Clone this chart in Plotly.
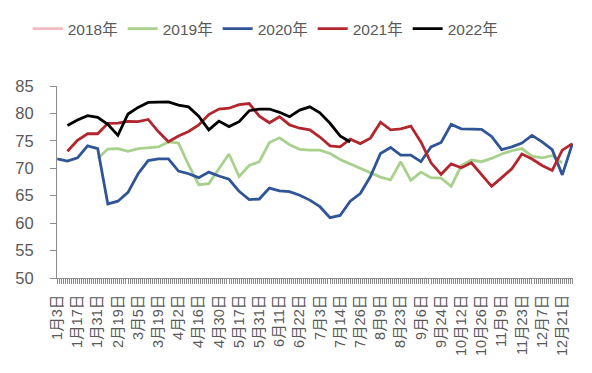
import plotly.graph_objects as go

tick_labels = ["1月3日", "1月17日", "1月31日", "2月19日", "3月5日", "3月19日", "4月2日",
               "4月16日", "4月30日", "5月17日", "5月31日", "6月11日", "6月22日", "7月3日",
               "7月14日", "7月26日", "8月9日", "8月23日", "9月6日", "9月24日", "10月12日",
               "10月26日", "11月9日", "11月23日", "12月7日", "12月21日"]

n_weeks = 52
weeks = list(range(n_weeks))

v2018 = [None] * n_weeks

v2019 = [None] * 4 + [71.8, 73.5, 73.6, 73.1, 73.6, 73.7, 73.9, 74.8, 74.6, 70.6,
                      67.0, 67.2, 70.0, 72.6, 68.5, 70.5, 71.2, 74.7, 75.55, 74.3,
                      73.45, 73.3, 73.3, 72.7, 71.6, 70.8, 70.0, 69.2, 68.4, 67.9,
                      71.2, 67.8, 69.3, 68.3, 68.2, 66.7, 70.5, 71.5, 71.2, 71.8,
                      72.6, 73.2, 73.6, 72.2, 71.9, 72.3, 71.0] + [None]

v2020 = [71.7, 71.3, 71.9, 74.1, 73.6, 63.5, 64.0, 65.6, 69.0, 71.4,
         71.7, 71.7, 69.5, 69.0, 68.3, 69.3, 68.6, 68.0, 65.8, 64.3,
         64.4, 66.4, 65.9, 65.75, 65.1, 64.2, 63.0, 61.0, 61.4, 64.0,
         65.4, 68.5, 72.7, 73.8, 72.4, 72.4, 71.2, 73.9, 74.7, 78.0,
         77.2, 77.1, 77.1, 75.8, 73.4, 73.9, 74.6, 76.0, 74.8, 73.4,
         68.8, 74.5]

v2021 = [None] + [73.1, 75.1, 76.3, 76.3, 78.2, 78.25, 78.55, 78.5, 78.9, 76.7,
                  74.85, 75.9, 76.7, 77.9, 79.8, 80.8, 80.95, 81.6, 81.8, 79.5,
                  78.3, 79.4, 77.9, 77.3, 77.0, 75.7, 74.1, 73.9, 75.3, 74.5,
                  75.5, 78.4, 77.0, 77.2, 77.7, 74.8, 71.0, 68.9, 70.8, 70.1,
                  71.0, 68.9, 66.7, 68.3, 69.9, 72.6, 71.7, 70.5, 69.6, 73.3,
                  74.5]

v2022 = [None] + [77.8, 78.8, 79.6, 79.3, 78.0, 76.0, 79.9, 81.1, 82.0, 82.0,
                  82.1, 81.5, 81.2, 79.5, 77.0, 78.6, 77.6, 78.5, 80.5, 80.8,
                  80.8, 80.2, 79.4, 80.6, 81.2, 80.1, 78.2, 75.9, 74.8] + [None] * 22

series = [
    ("2018年", v2018, "#F4B9C1"),
    ("2019年", v2019, "#A9D18E"),
    ("2020年", v2020, "#2F5597"),
    ("2021年", v2021, "#B3262D"),
    ("2022年", v2022, "#000000"),
]

FONT = "Liberation Sans, Noto Sans CJK SC, sans-serif"
GREY_TXT = "#595959"
AXIS = "#8C8C8C"

fig = go.Figure()
for name, vals, color in series:
    fig.add_trace(go.Scatter(
        x=weeks, y=vals, name=name, mode="lines",
        line=dict(color=color, width=2.8),
        connectgaps=False, showlegend=True,
    ))

fig.update_layout(
    width=592, height=373,
    margin=dict(l=57, r=19, t=86, b=95, autoexpand=False),
    paper_bgcolor="white", plot_bgcolor="white",
    font=dict(family=FONT, color=GREY_TXT),
    showlegend=True,
    legend=dict(
        orientation="h", xref="container", yref="container",
        x=0.448, xanchor="center", y=0.922, yanchor="middle",
        font=dict(size=15.5, color=GREY_TXT, family=FONT),
        itemwidth=30, tracegroupgap=0,
        bgcolor="rgba(0,0,0,0)",
    ),
    xaxis=dict(
        range=[-0.03, 51.06],
        automargin=False,
        tickmode="array",
        tickvals=weeks[::2],
        ticktext=tick_labels,
        tickangle=-90,
        tickfont=dict(size=14.5, color=GREY_TXT, family=FONT),
        showgrid=False, zeroline=False,
        showline=True, linecolor=AXIS, linewidth=1,
        ticks="outside", ticklen=5, tickcolor=AXIS,
        minor=dict(dtick=0.2, tick0=0, ticks="outside", ticklen=5, tickcolor=AXIS, showgrid=False),
        ticklabelstandoff=5,
        fixedrange=True,
    ),
    yaxis=dict(
        range=[50, 85],
        automargin=False,
        tickmode="linear", tick0=50, dtick=5,
        tickfont=dict(size=16.5, color=GREY_TXT, family=FONT),
        showgrid=False, zeroline=False,
        showline=True, linecolor=AXIS, linewidth=1,
        ticks="outside", ticklen=6, tickcolor=AXIS,
        ticklabelstandoff=13,
        fixedrange=True,
    ),
)

fig.write_html("out.html", config={"displayModeBar": False},
               post_script="document.body.style.margin='0';")
